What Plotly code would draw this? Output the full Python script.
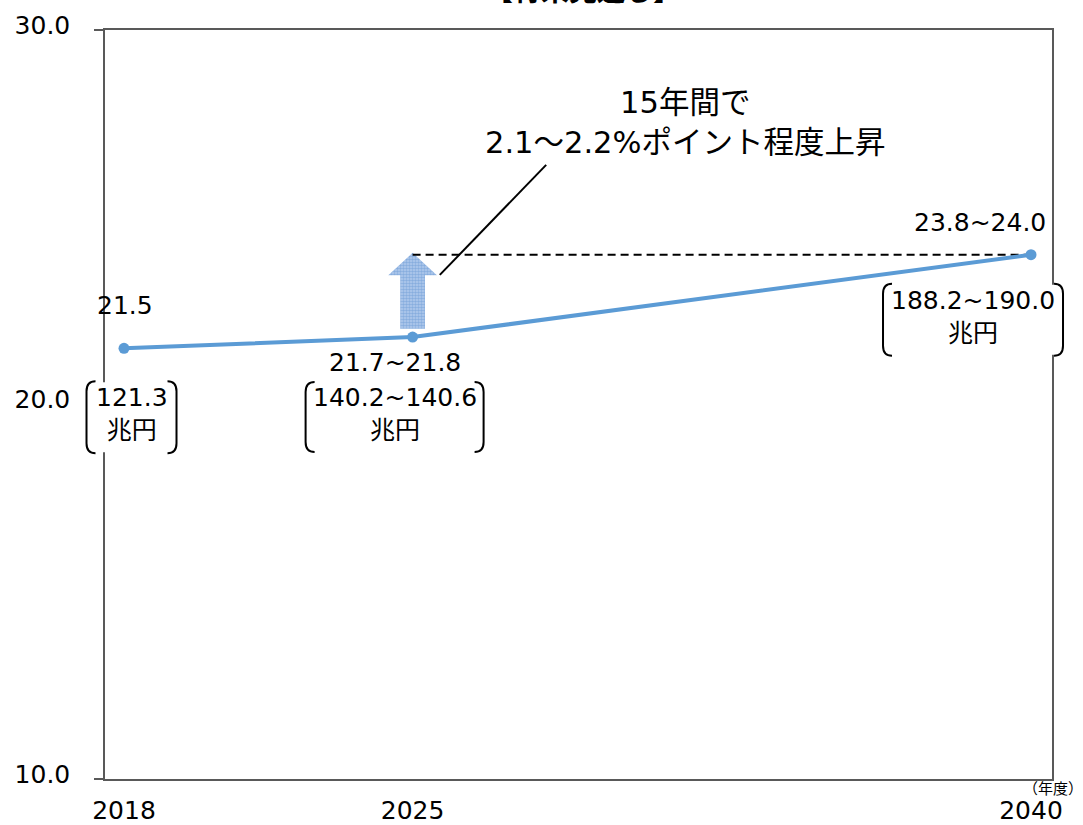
import plotly.graph_objects as go

# ---------------- data ----------------
years = [2018, 2025, 2040]
ratio = [21.5, 21.8, 24.0]
ratio_labels = ["21.5", "21.7~21.8", "23.8~24.0"]
amount_labels = ["121.3", "140.2~140.6", "188.2~190.0"]
amount_unit = "兆円"
y_ticks = [10, 20, 30]
y_tick_text = ["10.0", "20.0", "30.0"]
x_ticks = [2018, 2025, 2040]
x_tick_text = ["2018", "2025", "2040"]
title_text = "【将来見通し】"
callout_text = "15年間で<br>2.1～2.2%ポイント程度上昇"
x_unit_text = "（年度）"

# ---------------- style ----------------
FONT = "DejaVu Sans, Noto Sans CJK JP, sans-serif"
BLUE = "#5B9BD5"
AXIS = "#595959"
X_RANGE = [2017.539, 2040.509]
Y_RANGE = [10, 30]


def xpaper(year):
    return (year - X_RANGE[0]) / (X_RANGE[1] - X_RANGE[0])


# label offsets in pixels (dx, dy; dy positive = up)
ratio_off = [(1, 43), (-18, -25), (-51, 32)]
box_off = [(7.5, -69, 46, 36), (-18, -80, 90, 35), (-58, -65, 91, 36)]

fig = go.Figure()

# upward arrow at 2025 (from 2025 level up to 2040 level)
ax = years[1]
base = ratio[1] + 0.22
tip = ratio[2] + 0.05
head = tip - 0.6
sw, hw = 0.30, 0.59
fig.add_trace(go.Scatter(
    x=[ax - sw, ax + sw, ax + sw, ax + hw, ax, ax - hw, ax - sw, ax - sw],
    y=[base, base, head, head, tip, head, head, base],
    mode="lines", fill="toself", line=dict(width=0, color="rgba(0,0,0,0)"),
    fillcolor="#9DBCE6",
    fillpattern=dict(shape=".", fgcolor="#5B8FD0", bgcolor="#B3CBEC", size=3, solidity=0.55),
    hoverinfo="skip", showlegend=False))

# dashed reference line at 2040 level
fig.add_trace(go.Scatter(
    x=[years[1], years[2]], y=[ratio[2], ratio[2]], mode="lines",
    line=dict(color="black", width=2, dash="8px,5px"),
    hoverinfo="skip", showlegend=False))

# callout leader line
fig.add_trace(go.Scatter(
    x=[2028.24, 2025.66], y=[26.40, 23.46], mode="lines",
    line=dict(color="black", width=2), hoverinfo="skip", showlegend=False))

# main series
fig.add_trace(go.Scatter(
    x=years, y=ratio, mode="lines+markers",
    line=dict(color=BLUE, width=4), marker=dict(color=BLUE, size=11),
    showlegend=False, cliponaxis=False))

shapes = []
annotations = []
for i, (yr, v) in enumerate(zip(years, ratio)):
    dx, dy = ratio_off[i]
    annotations.append(dict(
        x=yr, y=v, xref="x", yref="y", text=ratio_labels[i], showarrow=False,
        xshift=dx, yshift=dy, font=dict(family=FONT, size=25, color="black")))
    cx, cy, bw, bh = box_off[i]
    xp = xpaper(yr)
    # white cover behind the bracketed label
    shapes.append(dict(
        type="rect", xref="paper", yref="y", xsizemode="pixel", ysizemode="pixel",
        xanchor=xp, yanchor=v, x0=cx - bw + 4, x1=cx + bw - 4, y0=cy - bh + 1, y1=cy + bh - 1,
        fillcolor="white", line=dict(width=0), layer="above"))
    L = cx - bw + 1
    R = cx + bw - 1
    T = cy + bh
    B = cy - bh
    r = 9
    left = (f"M {L + r},{T} Q {L},{T} {L},{T - 10} L {L},{B + 10} "
            f"Q {L},{B} {L + r},{B}")
    right = (f"M {R - r},{T} Q {R},{T} {R},{T - 10} L {R},{B + 10} "
             f"Q {R},{B} {R - r},{B}")
    for p in (left, right):
        shapes.append(dict(
            type="path", xref="paper", yref="y", xsizemode="pixel", ysizemode="pixel",
            xanchor=xp, yanchor=v, path=p, line=dict(color="black", width=2),
            layer="above"))
    annotations.append(dict(
        x=yr, y=v, xref="x", yref="y", text=amount_labels[i] + "<br>" + amount_unit,
        showarrow=False, xshift=cx, yshift=cy + 3,
        font=dict(family=FONT, size=25, color="black")))

annotations.append(dict(
    x=2031.62, y=27.53, xref="x", yref="y", text=callout_text, showarrow=False,
    font=dict(family=FONT, size=30.5, color="black")))
annotations.append(dict(
    x=1, y=0, xref="paper", yref="paper", text=x_unit_text, showarrow=False,
    xanchor="center", yanchor="middle", xshift=1, yshift=-10,
    font=dict(family=FONT, size=15, color="black")))
annotations.append(dict(
    x=0.5048, y=1.0267, xref="paper", yref="paper", yanchor="bottom",
    text="<b>" + title_text + "</b>", showarrow=False,
    font=dict(family=FONT, size=28, color="black")))

fig.update_layout(
    width=1083, height=825, autosize=False,
    margin=dict(l=105, r=31, t=30, b=46, autoexpand=False),
    paper_bgcolor="white", plot_bgcolor="white",
    font=dict(family=FONT, size=25, color="black"),
    shapes=shapes, annotations=annotations,
    xaxis=dict(range=X_RANGE, tickmode="array", tickvals=x_ticks,
               ticktext=x_tick_text, showgrid=False, zeroline=False,
               showline=True, linecolor=AXIS, linewidth=1.5, mirror=True,
               ticks="", ticklabelstandoff=8, automargin=False,
               tickfont=dict(family=FONT, size=25, color="black")),
    yaxis=dict(range=Y_RANGE, tickmode="array", tickvals=y_ticks,
               ticktext=y_tick_text, showgrid=False, zeroline=False,
               showline=True, linecolor=AXIS, linewidth=1.5, mirror=True,
               ticks="outside", ticklen=9, tickcolor=AXIS, tickwidth=1.5,
               ticklabelstandoff=19, ticklabelshift=-5, automargin=False,
               tickfont=dict(family=FONT, size=25, color="black")),
)

fig.write_html("out.html")
